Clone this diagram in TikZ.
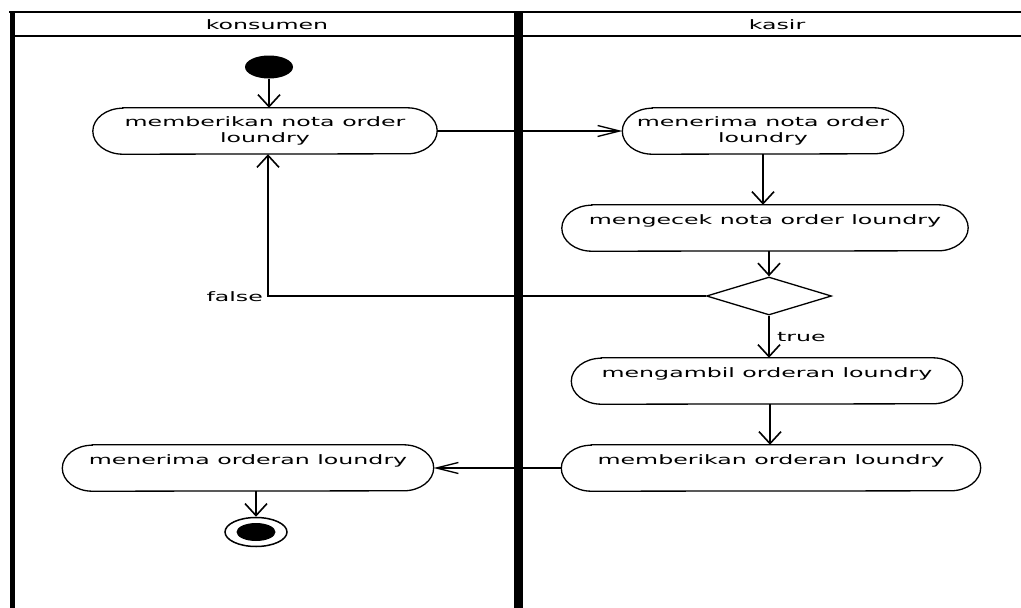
\documentclass[tikz,border=0pt]{standalone}
\usepackage{fontspec}
\setmainfont{DejaVu Sans}[FakeStretch=1.82]
\usetikzlibrary{arrows.meta,shapes.geometric}
\tikzset{
  act/.style={draw=none, align=center, inner sep=0pt, minimum height=46pt,
    font=\fontsize{13}{16}\selectfont},
  actline/.style={draw=black, line width=1.3pt},
  lbl/.style={font=\fontsize{13}{16}\selectfont, inner sep=0pt},
  varrow/.style={line width=2pt, -{Straight Barb[length=12pt,width=22pt,line width=1.6pt]}},
  harrow/.style={line width=1.2pt, -{Straight Barb[length=22pt,width=11pt,line width=1.3pt]}},
  farrow/.style={line width=1.6pt, -{Straight Barb[length=12pt,width=22pt,line width=1.6pt]}},
  lane/.style={line width=2pt},
}
\newcommand\actoutline[1]{%
  \draw[actline] ([xshift=30pt]#1.north west) -- ([xshift=-30pt]#1.north east)
    arc[start angle=90,end angle=-90,x radius=30pt,y radius=23pt]
    -- ([xshift=30pt]#1.south west)
    arc[start angle=270,end angle=90,x radius=30pt,y radius=23pt] -- cycle;}
\begin{document}
\begin{tikzpicture}[x=1pt,y=-1pt]
\useasboundingbox (0,0) rectangle (1021,608);
% swimlanes
\coordinate (tl) at (9,12);
\coordinate (tr) at (1021,12);
\coordinate (hl) at (12,36);
\coordinate (hr) at (1021,36);
\coordinate (lb) at (12.3,11);
\coordinate (lbb) at (12.3,608);
\coordinate (db) at (518.5,11);
\coordinate (dbb) at (518.5,608);
\draw[lane] (tl) -- (tr);
\draw[lane] (hl) -- (hr);
\draw[line width=5.5pt] (lb) -- (lbb);
\draw[line width=9pt] (db) -- (dbb);
\node[lbl] (h1) at (267,25) {konsumen};
\node[lbl] (h2) at (777,25) {kasir};
% start / end
\node[ellipse, fill=black, minimum width=48pt, minimum height=23pt, inner sep=0pt] (start) at (269,67) {};
\node[ellipse, draw=black, line width=1.5pt, minimum width=62pt, minimum height=29pt, inner sep=0pt] (end) at (256,532) {};
\node[ellipse, fill=black, minimum width=39pt, minimum height=18pt, inner sep=0pt] (endin) at (256,532) {};
% activities
\node[act, minimum width=344pt] (a1) at (265,131) {memberikan nota order\\loundry};
\node[act, minimum width=281pt] (a2) at (763,131) {menerima nota order\\loundry};
\node[act, minimum width=406pt] (a3) at (765,228) {mengecek nota order loundry\\\phantom{l}};
\node[act, minimum width=391pt] (a4) at (767,381) {mengambil orderan loundry\\\phantom{l}};
\node[act, minimum width=419pt] (a5) at (771,468) {memberikan orderan loundry\\\phantom{l}};
\node[act, minimum width=371pt] (a6) at (248,468) {menerima orderan loundry\\\phantom{l}};
\actoutline{a1}\actoutline{a2}\actoutline{a3}\actoutline{a4}\actoutline{a5}\actoutline{a6}
% decision
\node[diamond, draw=black, line width=1.3pt, minimum width=125pt, minimum height=38pt, aspect=3.3, inner sep=0pt] (d) at (769,296) {};
% labels
\node[lbl, anchor=east] (lf) at (263,297) {false};
\node[lbl, anchor=west] (lt) at (777,337) {true};
% connectors
\draw[varrow] (start.south) -- (start.south |- a1.north);
\draw[harrow] (a1.east) -- (a2.west);
\draw[varrow] (a2.south) -- (a2.south |- a3.north);
\draw[varrow] (d.north |- a3.south) -- (d.north);
\draw[varrow] (d.south) -- (d.south |- a4.north);
\coordinate (fc) at (268,296);
\draw[farrow] (d.west) -- (fc) -- (fc |- a1.south);
\coordinate (a45) at (770,0);
\draw[varrow] (a45 |- a4.south) -- (a45 |- a5.north);
\draw[harrow] (a5.west) -- (a6.east);
\draw[varrow] (end.north |- a6.south) -- (end.north);
\end{tikzpicture}
\end{document}
